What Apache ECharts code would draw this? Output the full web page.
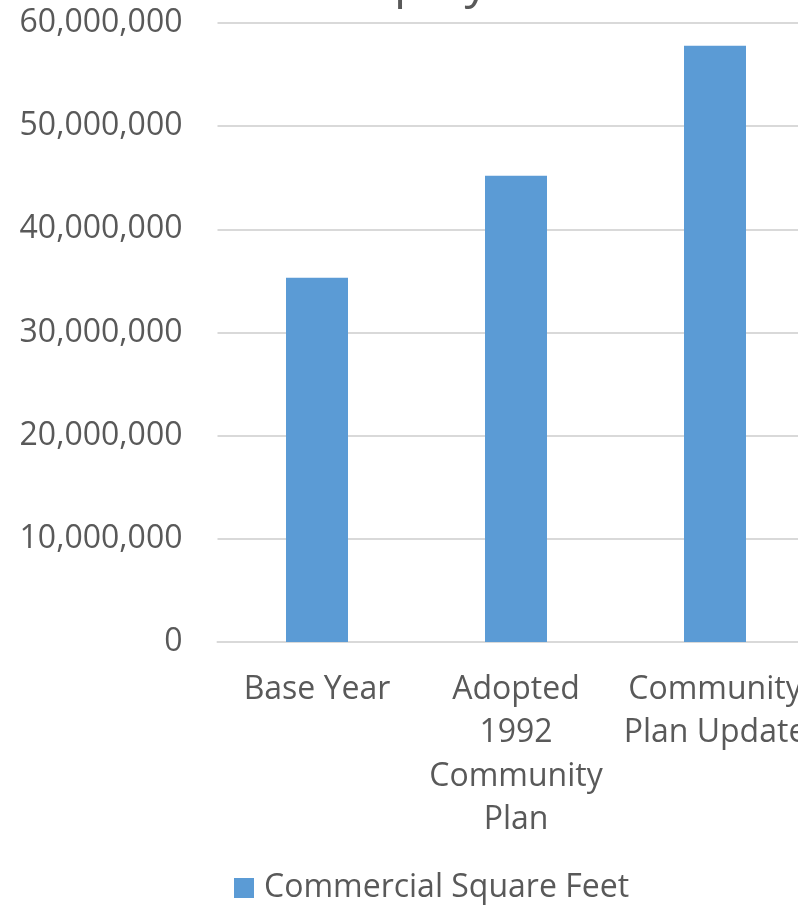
<!DOCTYPE html>
<html>
<head>
<meta charset="utf-8">
<script src="https://cdn.jsdelivr.net/npm/echarts@6/dist/echarts.min.js"></script>
<style>
html,body{margin:0;padding:0;background:#fff;overflow:hidden;width:798px;height:906px;}
#chart{width:816px;height:906px;}
</style>
</head>
<body>
<div id="chart"></div>
<script>
const titleText = "Employment";
const categories = ["Base Year", "Adopted\n1992\nCommunity\nPlan", "Community\nPlan Update"];
const seriesName = "Commercial Square Feet";
const values = [35300000, 45200000, 57800000];
const yTicks = [0, 10000000, 20000000, 30000000, 40000000, 50000000, 60000000];

const chart = echarts.init(document.getElementById('chart'));
const font = '"Open Sans", "Noto Sans", sans-serif';
chart.setOption({
  animation: false,
  title: {
    text: titleText,
    left: 323,
    top: -46,
    padding: 0,
    textStyle: {fontFamily: font, fontSize: 48, fontWeight: 'normal', color: '#595959', lineHeight: 60}
  },
  legend: {
    top: 869,
    left: 234,
    padding: 0,
    itemWidth: 20,
    itemHeight: 20,
    itemGap: 10,
    icon: 'rect',
    textStyle: {fontFamily: font, fontSize: 32, color: '#595959', lineHeight: 38, padding: [0, 0, 0, 5]},
    data: [seriesName]
  },
  grid: {left: 217.5, top: 23, width: 597, height: 619, containLabel: false},
  xAxis: {
    type: 'category',
    data: categories,
    axisLine: {show: true, lineStyle: {color: '#d9d9d9', width: 2}},
    axisTick: {show: false},
    axisLabel: {fontFamily: font, fontSize: 32, color: '#595959', lineHeight: 43.5, margin: 26, interval: 0}
  },
  yAxis: {
    type: 'value',
    min: yTicks[0],
    max: yTicks[yTicks.length - 1],
    interval: 10000000,
    axisLine: {show: false},
    axisTick: {show: false},
    splitLine: {lineStyle: {color: '#d9d9d9', width: 2}},
    axisLabel: {
      fontFamily: font, fontSize: 32, color: '#595959', margin: 35,
      lineHeight: 40,
      padding: [6, 0, 0, 0],
      formatter: v => v.toLocaleString('en-US')
    }
  },
  series: [{
    name: seriesName,
    type: 'bar',
    data: values,
    barWidth: 62,
    itemStyle: {color: '#5b9bd5'}
  }]
});
</script>
</body>
</html>
